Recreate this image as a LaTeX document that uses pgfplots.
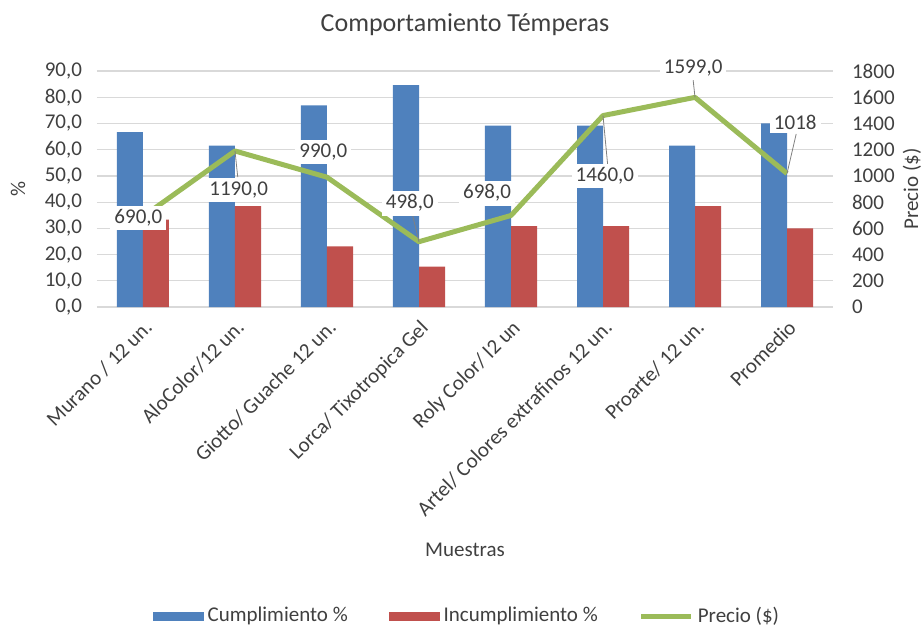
\documentclass[border=0pt]{standalone}
\usepackage{fontspec}
\setmainfont{Carlito}
\usepackage{pgfplots}
\pgfplotsset{compat=1.18}

\definecolor{cblue}{HTML}{4F81BD}
\definecolor{cred}{HTML}{C0504D}
\definecolor{cgreen}{HTML}{9BBB59}
\definecolor{cgrid}{HTML}{D9D9D9}
\definecolor{ctext}{HTML}{404040}

\pgfplotstableread{
x cump incump precio
0 66.7 33.3 690
1 61.5 38.5 1190
2 76.9 23.1 990
3 84.6 15.4 498
4 69.2 30.8 698
5 69.2 30.8 1460
6 61.5 38.5 1599
7 70.0 30.0 1018
}\datos

\begin{document}
\begin{tikzpicture}[font=\fontsize{10.5}{12}\selectfont, text=ctext]
\path[use as bounding box] (-48.5pt,-160pt) rectangle (413.5pt,153.5pt);
\begin{axis}[
    scale only axis,
    width=368pt, height=118pt,
    ybar=0pt, bar width=13pt,
    xmin=-0.5, xmax=7.5,
    ymin=0, ymax=90,
    ytick={0,10,...,90},
    xtick=data,
    xticklabels={Murano / 12 un., AloColor/12 un., Giotto/ Guache 12 un., Lorca/ Tixotropica Gel, Roly Color/ l2 un, Artel/ Colores extrafinos 12 un., Proarte/ 12 un., Promedio},
    x tick label style={rotate=45, anchor=north east, inner sep=1pt, xshift=-3pt, yshift=-3pt},
    yticklabel style={/pgf/number format/fixed, /pgf/number format/fixed zerofill, /pgf/number format/precision=1, /pgf/number format/use comma, /pgf/number format/assume math mode=true, xshift=-4pt},
    scaled y ticks=false,
    axis x line*=bottom, axis y line*=left,
    y axis line style={draw=none},
    x axis line style={cgrid, line width=0.6pt, -},
    ymajorgrids, grid style={cgrid, line width=0.6pt},
    major tick length=0pt,
    clip=false,
]
\addplot[fill=cblue, draw=none] table[x=x, y=cump] {\datos};
\addplot[fill=cred, draw=none] table[x=x, y=incump] {\datos};
\node[rotate=90, anchor=center] at ([xshift=-39.5pt]rel axis cs:0,0.5) {\%};
\node[anchor=center] at ([yshift=23pt]rel axis cs:0.5,1) {\fontsize{13}{15}\selectfont Comportamiento Témperas};
\node[anchor=center] at ([yshift=-121.5pt]rel axis cs:0.5,0) {Muestras};
\end{axis}
\begin{axis}[
    scale only axis,
    width=368pt, height=118pt,
    xmin=-0.5, xmax=7.5,
    ymin=0, ymax=1800,
    ytick={0,200,...,1800},
    axis x line=none,
    axis y line*=right,
    y axis line style={draw=none},
    major tick length=0pt,
    yticklabel style={/pgf/number format/fixed, /pgf/number format/1000 sep={}, /pgf/number format/assume math mode=true, anchor=west, xshift=6pt},
    scaled y ticks=false,
    clip=false,
    legend style={at={(0.504,-1.31)}, anchor=center, draw=none, legend columns=3,
      /tikz/every even column/.append style={column sep=18.5pt}, font=\fontsize{10.5}{12}\selectfont,
      /tikz/every odd column/.append style={column sep=0pt}},
    legend cell align=left,
]
\addlegendimage{legend image code/.code={\fill[cblue] (0pt,-2pt) rectangle (25pt,2pt);}}
\addlegendentry{Cumplimiento \%}
\addlegendimage{legend image code/.code={\fill[cred] (0pt,-2pt) rectangle (25pt,2pt);}}
\addlegendentry{Incumplimiento \%}
\addplot[cgreen, line width=2.5pt, line join=round, legend image code/.code={\draw[cgreen, line width=2.5pt] (0pt,0pt) -- (25pt,0pt);}] table[x=x, y=precio] {\datos};
\addlegendentry{Precio (\$)}
\draw[gray, thin] (axis cs:1,1190) -- (axis cs:1.03,990);
\draw[gray, thin] (axis cs:3,498) -- (axis cs:2.93,700);
\draw[gray, thin] (axis cs:5,1460) -- (axis cs:5.05,1090);
\draw[gray, thin] (axis cs:6,1599) -- (axis cs:5.98,1730);
\draw[gray, thin] (axis cs:7,1018) -- (axis cs:7.1,1320);
\tikzset{lbl/.style={fill=white, inner sep=2pt, anchor=center}}
\node[lbl] at (axis cs:-0.05,679) {690,0};
\node[lbl] at (axis cs:1.04,892) {1190,0};
\node[lbl] at (axis cs:1.96,1182) {990,0};
\node[lbl] at (axis cs:2.9,793) {498,0};
\node[lbl] at (axis cs:3.74,869) {698,0};
\node[lbl] at (axis cs:5.02,999) {1460,0};
\node[lbl] at (axis cs:5.98,1823) {1599,0};
\node[lbl] at (axis cs:7.09,1411) {1018};
\node[rotate=90, anchor=center] at ([xshift=39.5pt]rel axis cs:1,0.5) {Precio (\$)};
\end{axis}
\end{tikzpicture}
\end{document}
